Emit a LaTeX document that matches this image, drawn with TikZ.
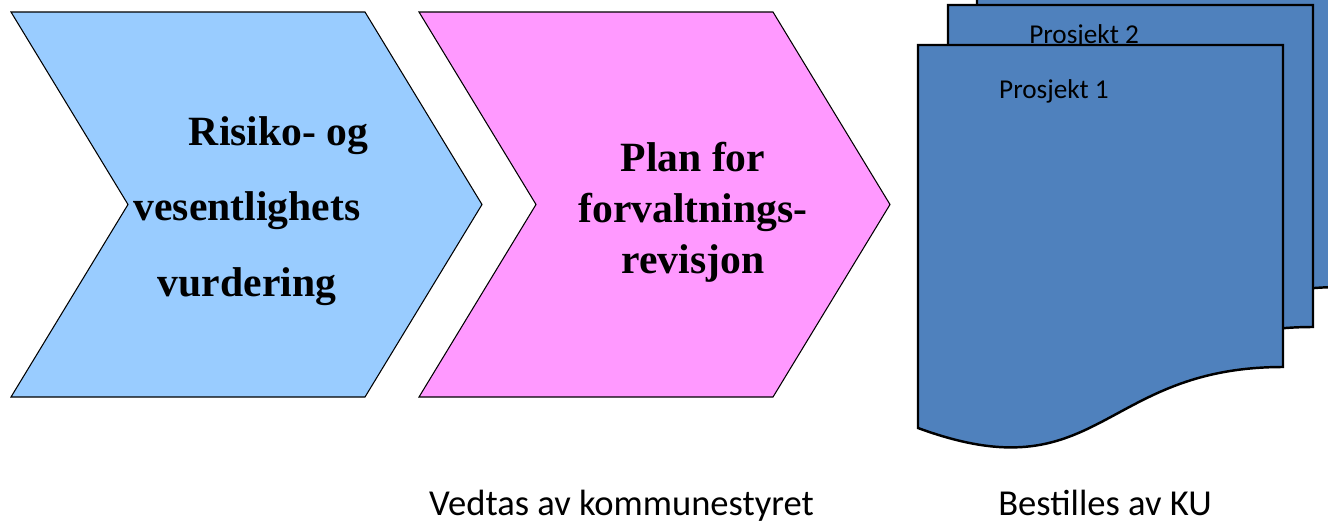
\documentclass[tikz,border=0pt]{standalone}
\usepackage{fontspec}
\setmainfont{Liberation Serif}
\newfontfamily\calibri{Carlito}
\usetikzlibrary{calc}

\definecolor{chevblue}{HTML}{99CCFF}
\definecolor{chevpink}{HTML}{FF99FF}
\definecolor{docblue}{HTML}{4F81BD}

\tikzset{
	chevron/.style = {draw = black, line width = 0.6pt, line join = miter},
	docshape/.style = {draw = black, fill = docblue, line width = 1.4pt},
	steptext/.style = {align = center, inner sep = 0pt, font = \bfseries\fontsize{23.7}{#1}\selectfont},
	doclabel/.style = {anchor = base, inner sep = 0pt, font = \calibri\fontsize{15.5}{18}\selectfont},
	caption/.style = {anchor = base, inner sep = 0pt, font = \calibri\fontsize{20.8}{24}\selectfont}
}

\begin{document}
	\begin{tikzpicture}[x = 0.02cm, y = -0.02cm]
		\def\top{12};
		\def\bot{397};
		\def\body{354};
		\def\tip{117};
	
		\useasboundingbox (0,0) rectangle (1328,524);
	
		% the two chevrons
		\foreach \x/\col in {11/chevblue, 419/chevpink} {
			\draw [chevron, fill = \col] (\x,\top) -- ++(\body,0) -- ++(\tip,{(\bot-\top)/2})
				-- ++(-\tip,{(\bot-\top)/2}) -- ++(-\body,0) -- ++(\tip,{-(\bot-\top)/2}) -- cycle;
		}
	
		\node [steptext = 43] (risk) at (247,211) {\hspace*{36pt}Risiko- og\\vesentlighets\\vurdering};
		\node [steptext = 29] (plan) at (693,212) {Plan for\\forvaltnings-\\revisjon};
	
		% stack of project documents, back to front
		\begin{scope} [shift = {(59,-80)}]
			\draw [docshape] (918,45) -- (1283,45) -- (1283,367) .. controls (1100,367) and (1100,495) .. (918,428) -- cycle;
		\end{scope}
	
		\begin{scope} [shift = {(30,-40)}]
			\draw [docshape] (918,45) -- (1283,45) -- (1283,367) .. controls (1100,367) and (1100,495) .. (918,428) -- cycle;
			\node [doclabel] (proj2) at (1054,83) {Prosjekt 2};
		\end{scope}
	
		\draw [docshape] (918,45) -- (1283,45) -- (1283,367) .. controls (1100,367) and (1100,495) .. (918,428) -- cycle;
		\node [doclabel] (proj1) at (1054,98) {Prosjekt 1};
	
		\node [caption] (vedtas) at (621.5,515) {Vedtas av kommunestyret};
		\node [caption] (bestilles) at (1105,515) {Bestilles av KU};
	\end{tikzpicture}
\end{document}
